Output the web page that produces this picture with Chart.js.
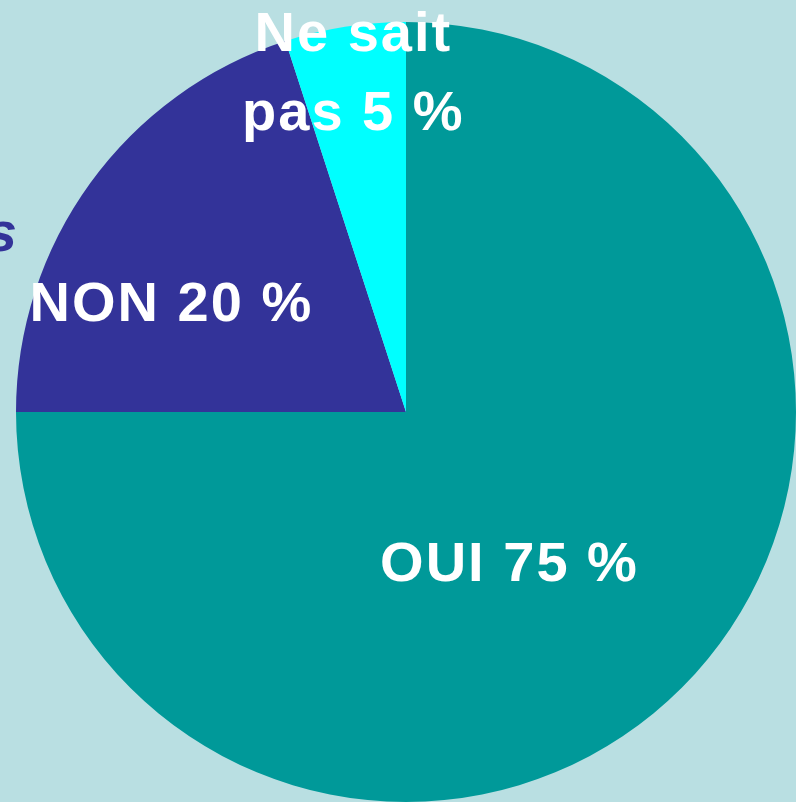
<!DOCTYPE html>
<html>
<head>
<meta charset="utf-8">
<script src="https://cdn.jsdelivr.net/npm/chart.js@4"></script>
<style>
  html, body { margin: 0; padding: 0; background: #B9DFE2; overflow: hidden; }
  #wrap { width: 796px; height: 802px; position: relative; }
</style>
</head>
<body>
<div id="wrap"><canvas id="pieChart"></canvas></div>
<script>
// Answers and their shares (percent)
const categories = ["OUI", "NON", "Ne sait pas"];
const shares = [75, 20, 5];
const sliceColors = ["#009999", "#333399", "#00FFFF"];

// Label text lines for each slice
const labelLines = [["OUI 75 %"], ["NON 20 %"], ["Ne sait", "pas 5 %"]];
// where each label sits: angle (deg, from +x, clockwise) and distance as fraction of radius
const labelPolar = [
    { angle: 56, dist: 0.47 },
    { angle: 204.7, dist: 0.665 },
    { angle: -99, dist: 0.88 }
];

// Draws slice labels and the clipped title fragment on the left
const sliceLabels = {
    id: 'sliceLabels',
    afterDatasetsDraw(chart) {
        const ctx = chart.ctx;
        const arcs = chart.getDatasetMeta(0).data;
        const cx = arcs[0].x, cy = arcs[0].y, r = arcs[0].outerRadius;
        ctx.save();
        ctx.fillStyle = '#FFFFFF';
        ctx.font = 'bold 56px "Liberation Sans", Arial, sans-serif';
        ctx.letterSpacing = '2px';
        ctx.textAlign = 'center';
        ctx.textBaseline = 'middle';
        labelLines.forEach((lines, i) => {
            const a = labelPolar[i].angle * Math.PI / 180;
            const x = cx + Math.cos(a) * r * labelPolar[i].dist + 1;
            const y = cy + Math.sin(a) * r * labelPolar[i].dist + 2;
            const lh = 79;
            lines.forEach((t, j) => {
                ctx.fillText(t, x, y + (j - (lines.length - 1) / 2) * lh);
            });
        });
        // title text running off the left edge
        ctx.fillStyle = '#333399';
        ctx.font = 'italic bold 56px "Liberation Sans", Arial, sans-serif';
        ctx.letterSpacing = '2px';
        ctx.textAlign = 'right';
        ctx.textBaseline = 'alphabetic';
        ctx.fillText('Réponses', 19, 251);
        ctx.restore();
    }
};

const ctxPie = document.getElementById('pieChart').getContext('2d');
const pieChart = new Chart(ctxPie, {
    type: 'pie',
    data: {
        labels: categories,
        datasets: [{
            data: shares,
            backgroundColor: sliceColors,
            borderWidth: 0
        }]
    },
    options: {
        responsive: true,
        maintainAspectRatio: false,
        animation: false,
        layout: { padding: { left: 16, right: 0, top: 22, bottom: 0 } },
        plugins: {
            legend: { display: false },
            tooltip: { enabled: false }
        }
    },
    plugins: [sliceLabels]
});
</script>
</body>
</html>
